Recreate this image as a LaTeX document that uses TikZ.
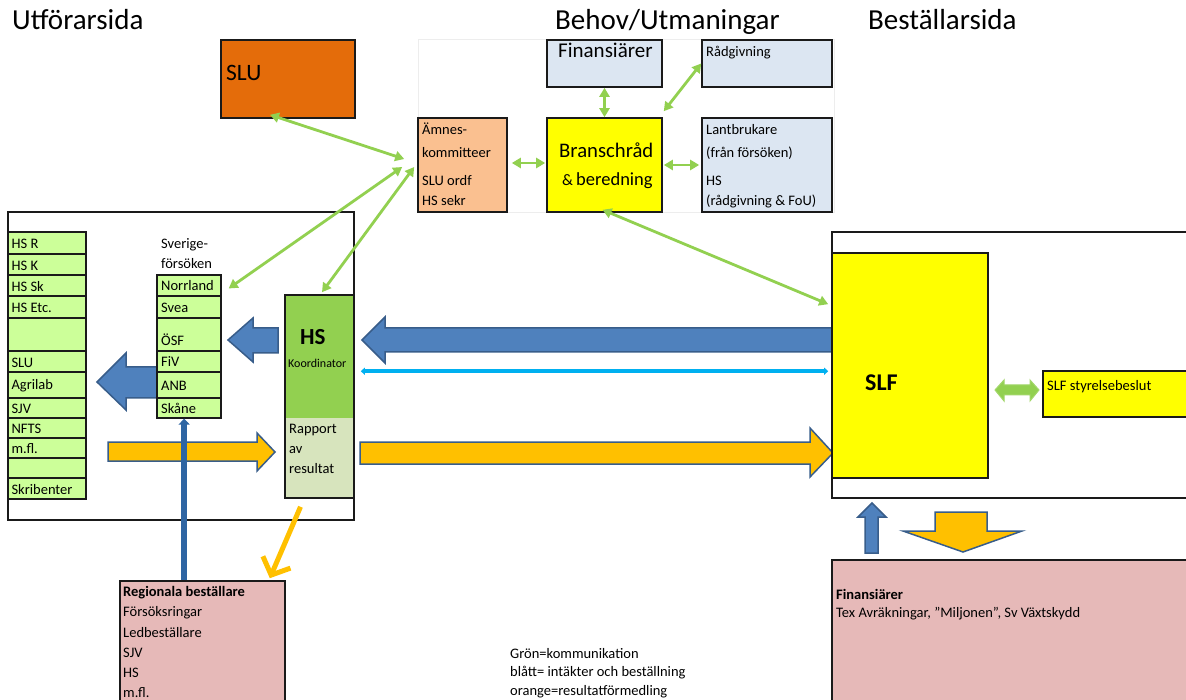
\documentclass[tikz,border=0pt]{standalone}
\usepackage{fontspec}
\setmainfont{Carlito}
\usetikzlibrary{arrows.meta,calc,fit}
\definecolor{sluor}{HTML}{E46C0A}
\definecolor{peach}{HTML}{FAC090}
\definecolor{lblue}{HTML}{DCE6F2}
\definecolor{yel}{HTML}{FFFF00}
\definecolor{lgrn}{HTML}{CCFF99}
\definecolor{grn}{HTML}{92D050}
\definecolor{rapc}{HTML}{D7E4BD}
\definecolor{mypink}{HTML}{E6B9B8}
\definecolor{barr}{HTML}{4F81BD}
\definecolor{bedge}{HTML}{385D8A}
\definecolor{ora}{HTML}{FFC000}
\definecolor{cyanl}{HTML}{00B0F0}
\definecolor{dblue}{HTML}{2E65A3}
\definecolor{edge}{HTML}{1A1A1A}
\begin{document}
\begin{tikzpicture}[x=1pt,y=-1pt,
  box/.style={draw=edge, line width=1.6pt, inner sep=0pt},
  cont/.style={draw=edge, line width=1.4pt, inner sep=0pt, fill=white},
  cell/.style={draw=edge, line width=1.3pt, inner sep=0pt, fill=lgrn},
  tx/.style={anchor=west, inner sep=0pt, text=black, font=\fontsize{14.5}{17}\selectfont},
  ttl/.style={anchor=base west, inner sep=0pt, font=\fontsize{29}{32}\selectfont},
  blk/.style={draw=bedge, line width=1.5pt, line join=miter},
  gconn/.style={draw=grn, line width=2.8pt, arrows={Triangle[length=9pt,width=10pt]-Triangle[length=9pt,width=10pt]}},
]
\useasboundingbox (0,0) rectangle (1186,700);

% titles
\node[ttl] (tU) at (12,30) {Utförarsida};
\node[ttl] (tB) at (555,30) {Behov/Utmaningar};
\node[ttl] (tS) at (868,30) {Beställarsida};

% top zone
\node[draw=black!7, line width=1pt, inner sep=0pt, fit={(418,40) (834,213)}] (zone) {};

% top boxes
\node[box, fill=sluor, fit={(221,40) (355,118)}] (slu) {};
\node[tx, anchor=base west, font=\fontsize{23.5}{26}\selectfont] (tslu) at (226,81) {SLU};
\node[box, fill=lblue, fit={(547,40) (662,87)}] (fin) {};
\node[tx, anchor=base west, font=\fontsize{21}{24}\selectfont] (tfin) at (558,58) {Finansiärer};
\node[box, fill=lblue, fit={(702,40) (832,87)}] (rad) {};
\node[tx, anchor=base west] (trad) at (706,57) {Rådgivning};
\node[box, fill=peach, fit={(418,118) (507,212)}] (amnes) {};
\node[tx, anchor=base west] (ta1) at (422,135) {Ämnes-};
\node[tx, anchor=base west] (ta2) at (422,158) {kommitteer};
\node[tx, anchor=base west] (ta3) at (422,186) {SLU ordf};
\node[tx, anchor=base west] (ta4) at (422,206) {HS sekr};
\node[box, fill=yel, fit={(547,118) (662,212)}] (bran) {};
\node[tx, anchor=base west, font=\fontsize{20.7}{24}\selectfont] (tb1) at (559,158) {Branschråd};
\node[tx, anchor=base west, font=\fontsize{18.5}{22}\selectfont] (tb2) at (562,186) {{\fontsize{16}{19}\selectfont\&}\,beredning};
\node[box, fill=lblue, fit={(702,118) (832,212)}] (lant) {};
\node[tx, anchor=base west] (tl1) at (706,135) {Lantbrukare};
\node[tx, anchor=base west] (tl2) at (706,158) {(från försöken)};
\node[tx, anchor=base west] (tl3) at (706,186) {HS};
\node[tx, anchor=base west] (tl4) at (706,206) {(rådgivning \& FoU)};

% containers
\node[cont, fit={(8,212) (354,520)}] (left) {};
\node[cont, fit={(832,232) (1192,498)}] (right) {};

% block arrows
\draw[blk, fill=barr] (833,328) -- (385,328) -- (385,317) -- (362,340) -- (385,363) -- (385,352) -- (833,352) -- cycle;
\draw[blk, fill=barr] (278,328) -- (253,328) -- (253,318) -- (228,340) -- (253,362) -- (253,353) -- (278,353) -- cycle;
\draw[blk, fill=barr] (158,367) -- (126,367) -- (126,353) -- (97,382) -- (126,410) -- (126,398) -- (158,398) -- cycle;
\draw[blk, fill=ora] (108,442) -- (257,442) -- (257,433) -- (275,452) -- (257,471) -- (257,461) -- (108,461) -- cycle;
\draw[blk, fill=ora] (360,442) -- (810,442) -- (810,428) -- (833,453) -- (810,477) -- (810,464) -- (360,464) -- cycle;
\draw[blk, fill=ora] (935,512) -- (987,512) -- (987,531) -- (1022,531) -- (963,552) -- (903,531) -- (935,531) -- cycle;
\draw[blk, fill=barr] (865,553) -- (865,517) -- (858,517) -- (872,503) -- (886,517) -- (878,517) -- (878,553) -- cycle;

% left column
\foreach \a/\b/\t [count=\i] in {232/254/HS R, 254/275/HS K, 275/296/HS Sk, 296/318/HS Etc., 318/351/, 351/372/SLU, 372/398/Agrilab, 398/418/SJV, 418/438/NFTS, 438/458/m.fl., 458/478/, 478/499/Skribenter}{
  \node[cell, fit={(8,\a) (86,\b)}] (lc\i) {};
  \node[tx] (tlc\i) at ($(lc\i.west)+(4,1)$) {\t};
}

% Sverige-forsoken
\node[tx, anchor=base west] (tsv1) at (161,249) {Sverige-};
\node[tx, anchor=base west] (tsv2) at (161,269) {försöken};
\foreach \a/\b/\c/\t [count=\i] in {275/296/286/Norrland, 296/318/308/Svea, 318/351/340/ÖSF, 351/372/362/FiV, 372/398/386/ANB, 398/418/408/Skåne}{
  \node[cell, fit={(157,\a) (221,\b)}] (sv\i) {};
  \node[tx] (tsvr\i) at (161,\c) {\t};
}

% HS box
\node[fill=grn, inner sep=0pt, fit={(285,295) (354,418)}] (hstop) {};
\node[fill=rapc, inner sep=0pt, fit={(285,418) (354,498)}] (rap) {};
\node[box, fit={(285,295) (354,498)}] (hs) {};
\node[tx, font=\bfseries\fontsize{23}{26}\selectfont] (ths) at (300,337) {HS};
\node[tx, font=\fontsize{12}{14}\selectfont] (tko) at (288,363) {Koordinator};
\node[tx] (tr1) at (289,430) {Rapport};
\node[tx] (tr2) at (289,450) {av};
\node[tx] (tr3) at (289,469) {resultat};

% SLF
\node[box, fill=yel, fit={(832,253) (988,478)}] (slf) {};
\node[tx, font=\bfseries\fontsize{24}{27}\selectfont] (tslf) at (865,383) {SLF};
\node[box, fill=yel, fit={(1043,371) (1192,417)}] (styr) {};
\node[tx] (tstyr) at (1047,387) {SLF styrelsebeslut};
\draw[draw=grn!85!white, fill=grn, line width=1pt] (995,390) -- (1004,380) -- (1004,385) -- (1030,385) -- (1030,380) -- (1039,390) -- (1030,401) -- (1030,395) -- (1004,395) -- (1004,401) -- cycle;

% bottom boxes
\node[box, fill=mypink, fit={(120,581) (285,720)}] (reg) {};
\node[tx] (tg1) at (123,593) {\textbf{Regionala beställare}};
\node[tx] (tg2) at (123,613) {Försöksringar};
\node[tx] (tg3) at (123,633) {Ledbeställare};
\node[tx] (tg4) at (123,653) {SJV};
\node[tx] (tg5) at (123,673) {HS};
\node[tx] (tg6) at (123,693) {m.fl.};
\node[box, fill=mypink, fit={(832,560) (1192,720)}] (finb) {};
\node[tx] (tf1) at (836,594) {\textbf{Finansiärer}};
\node[tx] (tf2) at (836,614) {Tex Avräkningar, \symbol{34}Miljonen\symbol{34}, Sv Växtskydd};

% legend
\node[tx] (lg1) at (510,654) {Grön=kommunikation};
\node[tx] (lg2) at (510,673) {blått= intäkter och beställning};
\node[tx] (lg3) at (510,692) {orange=resultatförmedling};

% blue vertical line
\coordinate (regtop) at ($(reg.north west)!0.39!(reg.north east)$);
\draw[draw=dblue, line width=5.5pt, -{Triangle[length=6pt,width=11pt]}] (regtop) -- (regtop |- sv6.south);

% orange thin arrow
\draw[draw=ora, line width=5pt, -{Straight Barb[length=14pt,width=30pt,line width=5pt]}] ($(hs.south)+(-19,8)$) -- ($(reg.north east)+(-16,-2)$);

% cyan line
\draw[draw=cyanl, line width=3.5pt, arrows={Triangle[length=4pt,width=7pt]-Triangle[length=4pt,width=7pt]}] ($(hs.north east)+(6,77)$) -- ($(slf.north west)+(-3,119)$);

% green connectors
\draw[gconn] (fin.south) -- (bran.north);
\draw[gconn] ($(bran.north east)+(1,-6)$) -- (rad.west);
\draw[gconn] ($(amnes.east)+(4,-2)$) -- ($(bran.west)+(-1,-2)$);
\draw[gconn] ($(bran.east)+(1,0)$) -- ($(lant.west)+(-2,0)$);
\draw[gconn] ($(slu.south)+(-18,-4)$) -- ($(amnes.west)+(-13,-6)$);
\draw[gconn] ($(sv1.east)+(7,3)$) -- ($(amnes.west)+(-15,2)$);
\draw[gconn] ($(hs.north)+(2.5,-2)$) -- ($(amnes.west)+(-3,2)$);
\draw[gconn] ($(bran.south)+(-2,-3)$) -- ($(slf.north west)+(-3,52)$);
\end{tikzpicture}
\end{document}
